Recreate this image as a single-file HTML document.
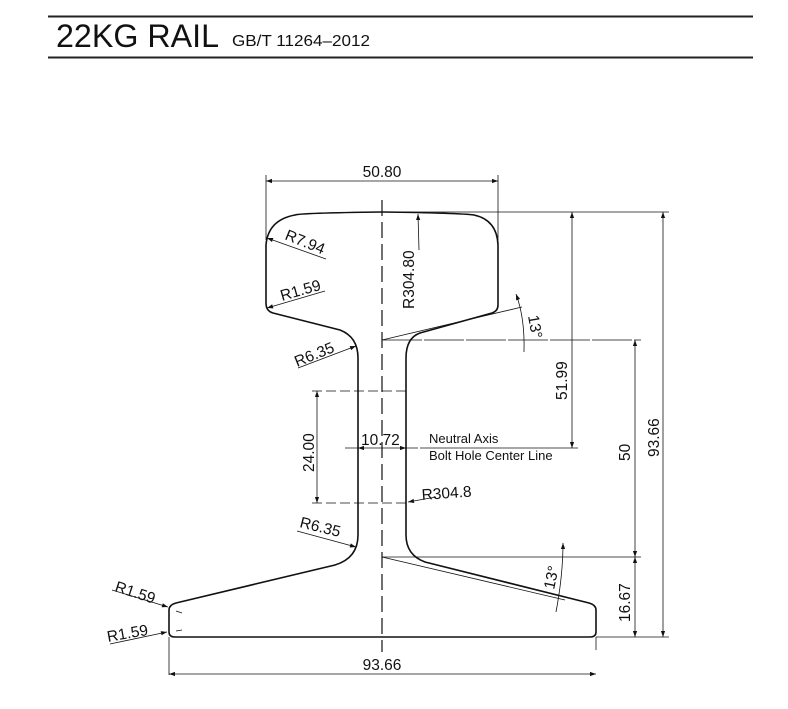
<!DOCTYPE html>
<html><head><meta charset="utf-8"><style>
html,body{margin:0;padding:0;background:#fff;}
svg{display:block;}
text{font-family:"Liberation Sans",sans-serif;fill:#111;}
</style></head><body>
<svg width="788" height="709" viewBox="0 0 788 709" xmlns="http://www.w3.org/2000/svg">
<defs>
<marker id="a" viewBox="0 0 10 10" refX="10" refY="5" markerWidth="8" markerHeight="6" orient="auto-start-reverse" markerUnits="userSpaceOnUse"><path d="M0,1.5 L10,5 L0,8.5 z" fill="#111"/></marker>
</defs>
<line x1="48" y1="16.5" x2="753" y2="16.5" stroke="#222" stroke-width="2"/>
<line x1="48" y1="57.5" x2="753" y2="57.5" stroke="#222" stroke-width="2"/>
<text x="56" y="47" font-size="32" textLength="163" lengthAdjust="spacingAndGlyphs">22KG RAIL</text>
<text x="232" y="46" font-size="16" textLength="138" lengthAdjust="spacingAndGlyphs">GB/T 11264–2012</text>

<path d="M295,215 Q300,213 382,212 Q460,213 474,215 Q497,220 498,245 L498,305 Q498,311 492,313 L420,333 Q406,338 406,358 L406,535 Q406,555 425,562 L589,603 Q596,605 596,610 L596,632 Q596,637 590,637 L175,637 Q169,637 169,632 L169,610 Q169,605 176,603 L335,565 Q358,558 358,535 L358,358 Q358,337 340,330 L273,313 Q266,311 266,303 L266,245 Q268,220 295,215 Z" fill="none" stroke="#111" stroke-width="1.6"/>

<g stroke="#111" stroke-width="0.8" fill="none">
<line x1="382" y1="200" x2="382" y2="652" stroke-dasharray="16,6" stroke-width="1.2"/>
<line x1="266" y1="175" x2="266" y2="240"/>
<line x1="498" y1="175" x2="498" y2="240"/>
<line x1="266" y1="181" x2="498" y2="181" marker-start="url(#a)" marker-end="url(#a)"/>
<line x1="382" y1="212" x2="669" y2="212"/>
<line x1="382" y1="340" x2="641" y2="340" stroke-dasharray="40,2"/>
<line x1="382" y1="557" x2="641" y2="557"/>
<line x1="596" y1="637" x2="669" y2="637"/>
<line x1="596" y1="637" x2="596" y2="650"/>
<line x1="572" y1="212" x2="572" y2="448" marker-start="url(#a)" marker-end="url(#a)"/>
<line x1="635" y1="340" x2="635" y2="557" marker-start="url(#a)" marker-end="url(#a)"/>
<line x1="635" y1="557" x2="635" y2="637" marker-start="url(#a)" marker-end="url(#a)"/>
<line x1="663" y1="212" x2="663" y2="637" marker-start="url(#a)" marker-end="url(#a)"/>
<line x1="345" y1="448" x2="418" y2="448"/>
<line x1="420" y1="448" x2="578" y2="448"/>
<line x1="362" y1="448" x2="358" y2="448" marker-end="url(#a)"/>
<line x1="400" y1="448" x2="406" y2="448" marker-end="url(#a)"/>
<line x1="312" y1="391" x2="406" y2="391" stroke-dasharray="10,4"/>
<line x1="312" y1="503" x2="406" y2="503" stroke-dasharray="10,4"/>
<line x1="317" y1="391" x2="317" y2="503" marker-start="url(#a)" marker-end="url(#a)"/>
<line x1="169" y1="637" x2="169" y2="675"/>
<line x1="169" y1="674" x2="596" y2="674" marker-start="url(#a)" marker-end="url(#a)"/>
<line x1="326" y1="259" x2="267" y2="238" marker-end="url(#a)"/>
<line x1="325" y1="291" x2="267" y2="308" marker-end="url(#a)"/>
<line x1="298" y1="368" x2="356" y2="346" marker-end="url(#a)"/>
<line x1="297" y1="531" x2="356" y2="547" marker-end="url(#a)"/>
<line x1="436" y1="497" x2="408" y2="502" marker-end="url(#a)"/>
<line x1="419" y1="250" x2="418" y2="214" marker-end="url(#a)"/>
<line x1="112" y1="590" x2="168" y2="607" marker-end="url(#a)"/>
<line x1="110" y1="644" x2="167" y2="632" marker-end="url(#a)"/>
<line x1="176" y1="611" x2="182" y2="613"/>
<line x1="176" y1="631" x2="182" y2="630"/>
<line x1="382" y1="340" x2="522" y2="307"/>
<path d="M516,294 Q525,318 524,352" marker-start="url(#a)"/>
<line x1="382" y1="557" x2="565" y2="600"/>
<path d="M563,543 Q563,575 556,612" marker-start="url(#a)"/>
</g>

<text x="382" y="177" font-size="15.5" text-anchor="middle">50.80</text>
<text transform="translate(284,239) rotate(22)" font-size="15.5">R7.94</text>
<text transform="translate(282,301) rotate(-16)" font-size="15.5">R1.59</text>
<text transform="translate(414,309) rotate(-90)" font-size="15.5">R304.80</text>
<text transform="translate(297,367) rotate(-22)" font-size="15.5">R6.35</text>
<text transform="translate(528,316) rotate(80)" font-size="15.5">13°</text>
<text transform="translate(567,400) rotate(-90)" font-size="15.5">51.99</text>
<text transform="translate(630,461) rotate(-90)" font-size="15.5">50</text>
<text transform="translate(659,457) rotate(-90)" font-size="15.5">93.66</text>
<text transform="translate(314,472) rotate(-90)" font-size="15.5">24.00</text>
<text x="361" y="445" font-size="15.5">10.72</text>
<text x="429" y="443" font-size="13">Neutral Axis</text>
<text x="429" y="460" font-size="13">Bolt Hole Center Line</text>
<text transform="translate(422,500) rotate(-4)" font-size="15.5">R304.8</text>
<text transform="translate(299,527) rotate(14)" font-size="15.5">R6.35</text>
<text transform="translate(554,590) rotate(-78)" font-size="15.5">13°</text>
<text transform="translate(630,622) rotate(-90)" font-size="15.5">16.67</text>
<text transform="translate(114,591) rotate(18)" font-size="15.5">R1.59</text>
<text transform="translate(108,642) rotate(-10)" font-size="15.5">R1.59</text>
<text x="382" y="670" font-size="15.5" text-anchor="middle">93.66</text>
</svg>
</body></html>
